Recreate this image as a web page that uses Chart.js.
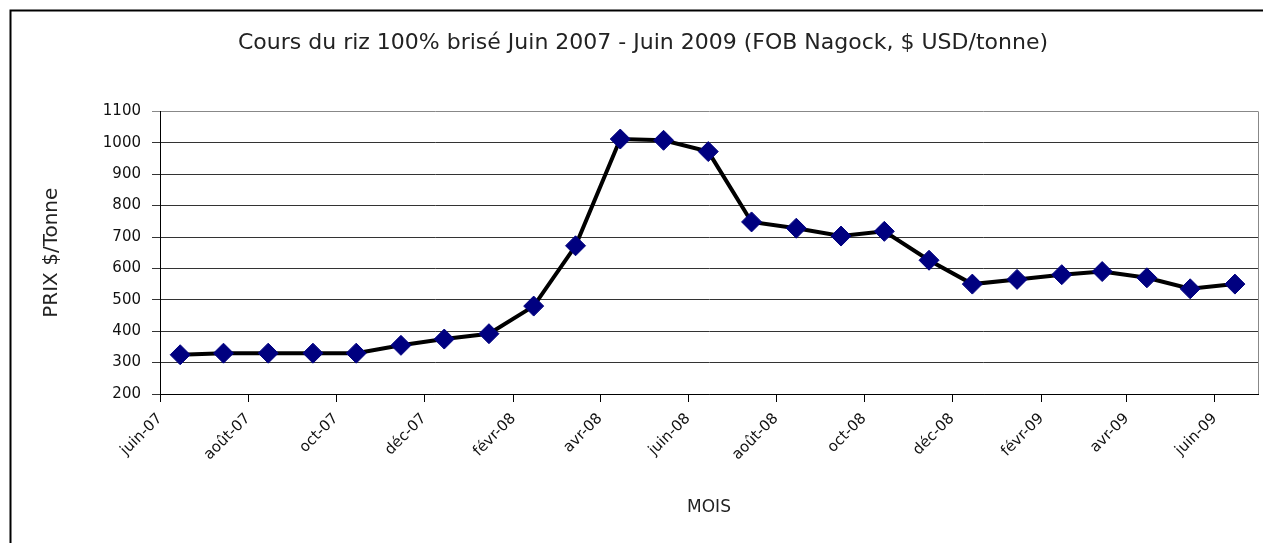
<!DOCTYPE html>
<html>
<head>
<meta charset="utf-8">
<script src="https://cdn.jsdelivr.net/npm/chart.js@4/dist/chart.umd.min.js"></script>
<style>
    body { margin: 0; background: #fff; overflow: hidden; }
    #wrap { position: relative; width: 1263px; height: 543px; }
</style>
</head>
<body>
<div id="wrap"><canvas id="riceChart"></canvas></div>
<script>
// Monthly quotes (mid-month), June 2007 - June 2009
const months = [
    '2007-06-15', '2007-07-15', '2007-08-15', '2007-09-15', '2007-10-15',
    '2007-11-15', '2007-12-15', '2008-01-15', '2008-02-15', '2008-03-15',
    '2008-04-15', '2008-05-15', '2008-06-15', '2008-07-15', '2008-08-15',
    '2008-09-15', '2008-10-15', '2008-11-15', '2008-12-15', '2009-01-15',
    '2009-02-15', '2009-03-15', '2009-04-15', '2009-05-15', '2009-06-15'
];
const prices = [
    325, 330, 330, 330, 330,
    355, 375, 392, 480, 672,
    1012, 1008, 972, 748, 728,
    703, 718, 626, 550, 565,
    580, 590, 570, 535, 550
];

// Axis ticks every two months
const tickDates = [
    '2007-06-01', '2007-08-01', '2007-10-01', '2007-12-01', '2008-02-01',
    '2008-04-01', '2008-06-01', '2008-08-01', '2008-10-01', '2008-12-01',
    '2009-02-01', '2009-04-01', '2009-06-01'
];
const tickLabels = [
    'juin-07', 'août-07', 'oct-07', 'déc-07', 'févr-08',
    'avr-08', 'juin-08', 'août-08', 'oct-08', 'déc-08',
    'févr-09', 'avr-09', 'juin-09'
];

const toDay = s => Date.parse(s) / 86400000;

// Outer frame and plot border, like the spreadsheet chart
const framePlugin = {
    id: 'frame',
    afterDraw(chart) {
        const ctx = chart.ctx;
        const a = chart.chartArea;
        ctx.save();
        ctx.strokeStyle = '#000';
        ctx.lineWidth = 2;
        ctx.strokeRect(10.5, 10.5, 1400, 800);
        ctx.strokeStyle = '#888';
        ctx.lineWidth = 1;
        ctx.beginPath();
        ctx.moveTo(Math.round(a.right) + 0.5, a.top);
        ctx.lineTo(Math.round(a.right) + 0.5, a.bottom);
        ctx.stroke();
        ctx.restore();
    }
};

const ctx = document.getElementById('riceChart');
new Chart(ctx, {
    type: 'line',
    data: {
        datasets: [{
            label: 'Prix',
            data: months.map((m, i) => ({ x: toDay(m), y: prices[i] })),
            borderColor: '#000',
            borderWidth: 4,
            tension: 0,
            pointStyle: 'rectRot',
            pointRadius: 10,
            pointBackgroundColor: '#000080',
            pointBorderColor: '#000080',
            pointBorderWidth: 1
        }]
    },
    options: {
        responsive: true,
        maintainAspectRatio: false,
        animation: false,
        layout: {
            autoPadding: false,
            padding: { left: 28, right: 5, top: 0, bottom: 0 }
        },
        plugins: {
            legend: { display: false },
            tooltip: { enabled: false },
            title: {
                display: true,
                text: 'Cours du riz 100% brisé Juin 2007 - Juin 2009 (FOB Nagock, $ USD/tonne)',
                color: '#222',
                font: { family: 'DejaVu Sans', size: 22, weight: 'normal' },
                padding: { top: 30, bottom: 55 }
            }
        },
        scales: {
            x: {
                type: 'linear',
                min: toDay('2007-06-01'),
                max: toDay('2009-07-01'),
                afterBuildTicks: axis => {
                    axis.ticks = tickDates.map(d => ({ value: toDay(d) }));
                },
                afterFit: scale => {
                    scale.height = 149;
                    scale.paddingRight = 0;
                    scale.paddingLeft = 0;
                },
                ticks: {
                    color: '#111',
                    font: { family: 'DejaVu Sans', size: 15 },
                    minRotation: 45,
                    maxRotation: 45,
                    padding: 8,
                    callback: (value, index) => tickLabels[index]
                },
                grid: {
                    drawOnChartArea: false,
                    drawTicks: true,
                    tickLength: 8,
                    color: '#000'
                },
                border: { display: true, color: '#000', width: 1 },
                title: {
                    display: true,
                    text: 'MOIS',
                    color: '#222',
                    font: { family: 'DejaVu Sans', size: 17 },
                    padding: { top: 0, bottom: 25 }
                }
            },
            y: {
                min: 200,
                max: 1100,
                afterFit: scale => { scale.width = 132; },
                ticks: {
                    stepSize: 100,
                    color: '#111',
                    font: { family: 'DejaVu Sans', size: 15 },
                    padding: 11,
                    callback: value => String(value)
                },
                grid: {
                    color: c => c.tick && c.tick.value === 1100 ? '#888' : '#333',
                    lineWidth: 1,
                    drawTicks: true,
                    tickLength: 8
                },
                border: { display: true, color: '#000', width: 1 },
                title: {
                    display: true,
                    text: 'PRIX $/Tonne',
                    color: '#222',
                    font: { family: 'DejaVu Sans', size: 20 },
                    padding: { top: 12, bottom: 0 }
                }
            }
        }
    },
    plugins: [framePlugin]
});
</script>
</body>
</html>
